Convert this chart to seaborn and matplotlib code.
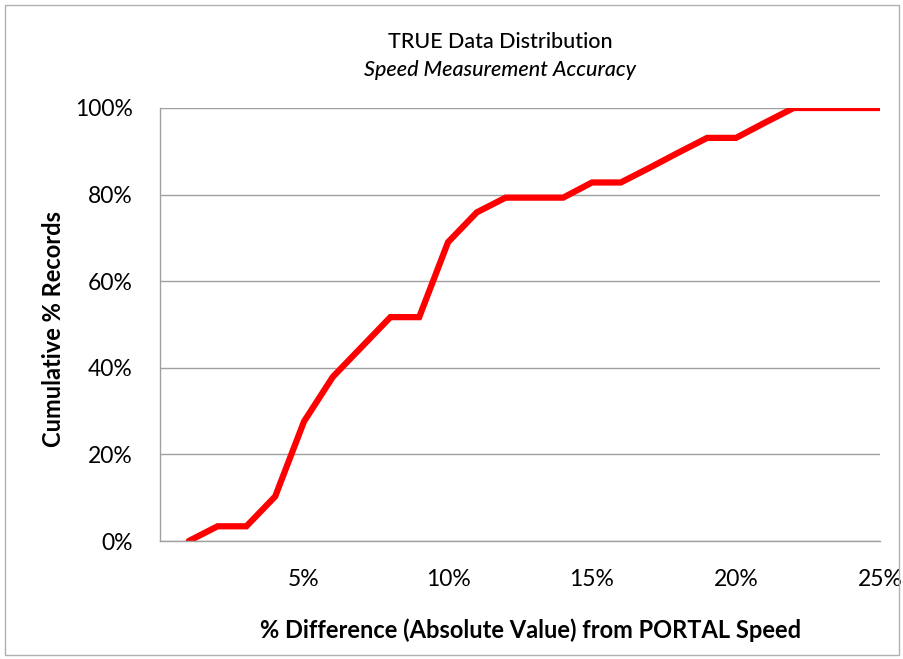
import pandas as pd
import seaborn as sns
import matplotlib
import matplotlib.pyplot as plt
from matplotlib.patches import Rectangle
from matplotlib.ticker import PercentFormatter

matplotlib.use("Agg")

# Data: % difference vs cumulative % of records
pct_diff = list(range(1, 26))
cum_pct = [0.0, 3.4, 3.4, 10.3, 27.6, 37.9, 44.8, 51.7, 51.7, 69.0,
           75.9, 79.3, 79.3, 79.3, 82.8, 82.8, 86.2, 89.7, 93.1, 93.1,
           96.6, 100.0, 100.0, 100.0, 100.0]

df = pd.DataFrame({"diff": pct_diff, "cum": cum_pct})

sns.set_theme(style="white")
plt.rcParams["font.family"] = ["Lato", "DejaVu Sans"]
plt.rcParams["text.color"] = "black"
plt.rcParams["axes.labelcolor"] = "black"

fig = plt.figure(figsize=(9.04, 6.59), dpi=100)
ax = fig.add_axes([160 / 904, 118 / 659, 720 / 904, 433 / 659])

sns.lineplot(data=df, x="diff", y="cum", ax=ax, color="#ff0000",
             linewidth=4.5, solid_joinstyle="miter")

ax.set_xlim(0, 25)
ax.set_ylim(0, 100)
ax.set_xticks([0, 5, 10, 15, 20, 25])
ax.set_xticklabels(["", "5%", "10%", "15%", "20%", "25%"])
ax.set_yticks([0, 20, 40, 60, 80, 100])
ax.yaxis.set_major_formatter(PercentFormatter(decimals=0))

ax.grid(axis="y", color="#a0a0a0", linewidth=1)
ax.set_axisbelow(True)
for side in ["top", "right"]:
    ax.spines[side].set_visible(False)
for side in ["left", "bottom"]:
    ax.spines[side].set_color("#a0a0a0")
    ax.spines[side].set_linewidth(1)

ax.tick_params(axis="both", which="major", direction="out", length=7.5,
               width=1, color="#a0a0a0", labelsize=16.5, labelcolor="black")
ax.tick_params(axis="x", pad=13)
ax.tick_params(axis="y", pad=12)

ax.set_xlabel("% Difference (Absolute Value) from PORTAL Speed",
              fontsize=17, fontweight="bold")
ax.set_ylabel("Cumulative % Records", fontsize=17, fontweight="bold")
ax.xaxis.set_label_coords(0.514, -0.178)
ax.yaxis.set_label_coords(-0.132, 0.49)

fig.text(500 / 904, 1 - 42 / 659, "TRUE Data Distribution", ha="center",
         va="center", fontsize=15.5, fontweight="medium")
fig.text(500 / 904, 1 - 70 / 659, "Speed Measurement Accuracy", ha="center",
         va="center", fontsize=15.5, style="italic", fontweight="medium")

# light frame around the chart
fig.patches.append(Rectangle((5 / 904, 4 / 659), 894 / 904, 650 / 659,
                             transform=fig.transFigure, fill=False,
                             edgecolor="#b0b0b0", linewidth=1))

fig.savefig("out.png", dpi=100)
plt.close(fig)
